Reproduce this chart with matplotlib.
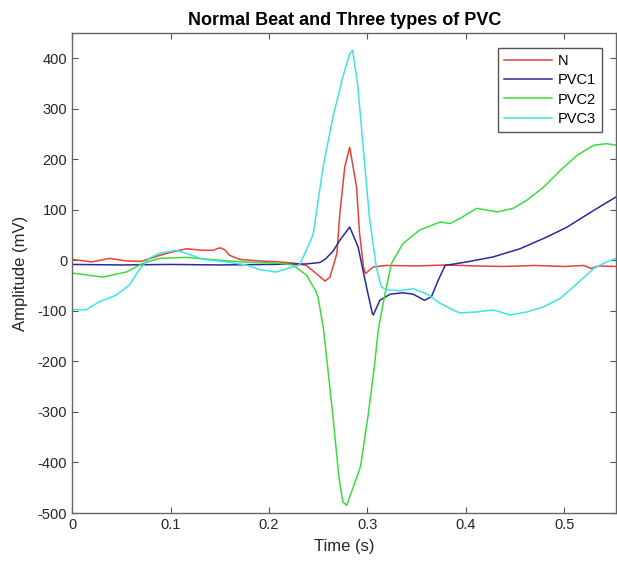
import matplotlib
matplotlib.use("Agg")
import matplotlib.pyplot as plt

# values (time in s, amplitude in mV)
t_n = [0.0, 0.02, 0.038, 0.055, 0.07, 0.089, 0.102, 0.116, 0.133, 0.143, 0.150, 0.155,
       0.160, 0.170, 0.190, 0.210, 0.228, 0.238, 0.248, 0.257, 0.262, 0.269, 0.272, 0.277,
       0.282, 0.289, 0.292, 0.296, 0.298, 0.306, 0.319, 0.35, 0.38, 0.41, 0.438, 0.47,
       0.50, 0.52, 0.527, 0.535, 0.553]
v_n = [2, -3, 4, -1, -2, 10, 17, 23, 20, 20, 25, 21,
       10, 2, -1, -3, -6, -10, -26, -41, -33, 14, 93, 185,
       224, 145, 54, -13, -26, -13, -10, -11, -9, -11, -12, -10,
       -12, -10, -16, -11, -12]

t_pvc1 = [0.0, 0.05, 0.1, 0.15, 0.2, 0.238, 0.252, 0.258, 0.265, 0.272, 0.282, 0.2905,
          0.299, 0.305, 0.306, 0.3126, 0.323, 0.336, 0.3466, 0.358, 0.365, 0.372, 0.379,
          0.401, 0.428, 0.455, 0.482, 0.503, 0.530, 0.553]
v_pvc1 = [-8, -9, -8, -9, -8, -7, -4, 4, 18, 40, 66, 27,
          -52, -105, -108, -79, -67, -64, -67, -79, -72, -39, -10,
          -3, 7, 23, 46, 66, 99, 126]

t_pvc2 = [0.0, 0.031, 0.055, 0.0716, 0.0886, 0.116, 0.1395, 0.173, 0.207, 0.224, 0.238,
          0.241, 0.248, 0.250, 0.255, 0.257, 0.265, 0.271, 0.275, 0.279, 0.281, 0.293,
          0.301, 0.307, 0.311, 0.318, 0.3245, 0.336, 0.353, 0.374, 0.384, 0.394, 0.411,
          0.432, 0.448, 0.462, 0.479, 0.496, 0.513, 0.530, 0.543, 0.553]
v_pvc2 = [-25, -33, -23, -6, 4, 6, 2, -3, -5, -9, -29,
          -39, -62, -75, -131, -164, -309, -428, -478, -485, -474, -408,
          -303, -211, -138, -65, -6, 33, 60, 76, 73, 83, 103,
          96, 103, 119, 145, 178, 208, 228, 231, 228]

t_pvc3 = [0.0, 0.014, 0.0275, 0.0445, 0.058, 0.068, 0.078, 0.0886, 0.1056, 0.116, 0.133,
          0.1565, 0.177, 0.190, 0.207, 0.224, 0.231, 0.241, 0.245, 0.255, 0.265, 0.275,
          0.282, 0.285, 0.290, 0.296, 0.302, 0.309, 0.314, 0.319, 0.333, 0.3466, 0.360,
          0.374, 0.387, 0.394, 0.411, 0.428, 0.445, 0.462, 0.479, 0.496, 0.513, 0.530,
          0.543, 0.553]
v_pvc3 = [-97, -98, -82, -69, -49, -19, 4, 14, 20, 14, 2,
          -3, -9, -18, -23, -13, -9, 33, 53, 185, 284, 363,
          409, 416, 350, 218, 86, -13, -52, -58, -60, -56, -66,
          -85, -98, -104, -102, -98, -108, -102, -92, -75, -46, -16,
          -3, 4]

series_names = ["N", "PVC1", "PVC2", "PVC3"]
series_colors = ["#e8403a", "#2a2a9c", "#3ddc3d", "#3fe3e3"]

plt.rcParams["font.family"] = ["Liberation Sans", "DejaVu Sans"]
plt.rcParams["axes.unicode_minus"] = False

fig = plt.figure(figsize=(6.17, 5.64), dpi=100)
ax = fig.add_axes([0.117, 0.0904, 0.882, 0.851])

for (tt, vv), name, col in zip(
    [(t_n, v_n), (t_pvc1, v_pvc1), (t_pvc2, v_pvc2), (t_pvc3, v_pvc3)],
    series_names, series_colors,
):
    ax.plot(tt, vv, color=col, linewidth=1.1, label=name)

ax.set_xlim(0, 0.553)
ax.set_ylim(-500, 450)
ax.set_xticks([0, 0.1, 0.2, 0.3, 0.4, 0.5])
ax.set_xticklabels(["0", "0.1", "0.2", "0.3", "0.4", "0.5"])
ax.set_yticks(range(-500, 401, 100))
ax.tick_params(direction="in", top=True, right=True, length=4, width=0.8,
               colors="#555555", labelcolor="#262626", labelsize=10.5)
for sp in ax.spines.values():
    sp.set_color("#666666")
    sp.set_linewidth(1.0)

ax.set_title("Normal Beat and Three types of PVC", fontsize=13, fontweight="bold", pad=6)
ax.set_xlabel("Time (s)", fontsize=12, color="#262626", labelpad=5)
ax.set_ylabel("Amplitude (mV)", fontsize=12, color="#262626", labelpad=7)

leg = ax.legend(loc="upper right", bbox_to_anchor=(0.9875, 0.9845), fontsize=10.5,
                handlelength=3.3, handletextpad=0.35, borderpad=0.45,
                labelspacing=0.35, fancybox=False, framealpha=1)
leg.get_frame().set_edgecolor("#555555")
leg.get_frame().set_linewidth(1.0)

fig.savefig("out.png", dpi=100)
